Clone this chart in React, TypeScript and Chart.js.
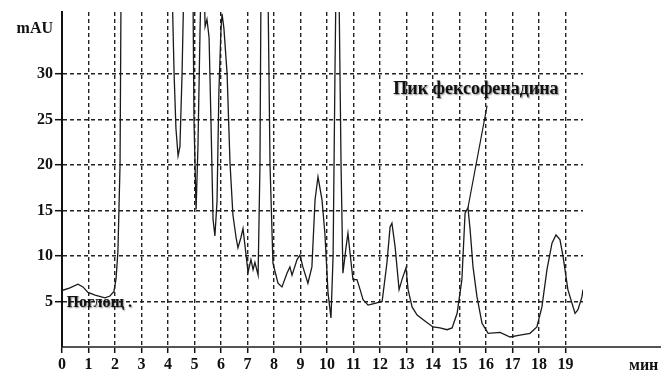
import React, { useEffect, useRef } from "react";
import { Chart, registerables } from "chart.js";

Chart.register(...registerables);

// Retention time (min)
const times = [
  0, 0.3, 0.6, 0.79, 0.98, 1.25, 1.62, 1.81, 1.96, 2.04, 2.11, 2.19, 2.23,
  4.15, 4.23, 4.3, 4.38, 4.45, 4.53, 4.6, 4.9, 4.94, 4.98, 5.06, 5.13, 5.21, 5.25,
  5.36, 5.4, 5.47, 5.55, 5.62, 5.7, 5.77, 5.85, 5.92, 6.0, 6.04, 6.11, 6.23, 6.34,
  6.45, 6.57, 6.64, 6.75, 6.83, 6.91, 7.02, 7.13, 7.21, 7.28, 7.4, 7.47, 7.51,
  7.77, 7.85, 7.96, 8.15, 8.3, 8.49, 8.6, 8.68, 8.87, 8.98, 9.09, 9.28, 9.43,
  9.55, 9.66, 9.81, 9.92, 10.04, 10.15, 10.23, 10.3, 10.34, 10.45, 10.53, 10.6,
  10.72, 10.79, 10.87, 10.98, 11.13, 11.25, 11.36, 11.55, 11.81, 12.08, 12.26,
  12.38, 12.45, 12.57, 12.72, 12.83, 12.98, 13.06, 13.21, 13.4, 13.77, 14.0,
  14.26, 14.53, 14.72, 14.91, 15.09, 15.21, 15.32, 15.4, 15.51, 15.66, 15.85,
  16.08, 16.53, 16.91, 17.28, 17.66, 17.92, 18.11, 18.3, 18.49, 18.64, 18.79,
  18.91, 19.09, 19.36, 19.47, 19.62, 19.66,
];

// Absorbance (mAU)
const absorbance = [
  6.2, 6.5, 6.9, 6.6, 6.0, 5.7, 5.4, 5.6, 6.1, 7.5, 10.5, 20, 40,
  40, 30, 24, 21, 22, 30, 40, 40, 40, 25, 15.1, 22, 35, 40,
  40, 35.2, 36, 34, 25, 14, 12.2, 16, 28, 35, 36.6, 35, 30, 20.2,
  14.5, 12, 10.9, 12, 13, 11, 8.2, 9.6, 8.5, 9.3, 7.9, 20, 40,
  40, 20, 9.2, 7.0, 6.6, 8.1, 8.8, 7.9, 9.6, 10.1, 8.8, 7.0, 8.8,
  16.2, 18.7, 16.2, 12.5, 5.9, 3.2, 10, 30, 40, 40, 20, 8.1,
  11, 12.5, 10.3, 7.4, 7.4, 6.3, 5.2, 4.6, 4.8, 5.0, 9.2,
  13.2, 13.6, 11, 6.3, 7.4, 8.7, 6.3, 4.4, 3.5, 2.7, 2.2,
  2.1, 1.9, 2.1, 3.7, 7.4, 14.7, 15.3, 12.9, 8.8, 5.5, 2.6,
  1.5, 1.6, 1.1, 1.3, 1.5, 2.2, 4.4, 8.5, 11.4, 12.3, 11.8,
  9.9, 6.3, 3.7, 4.1, 5.5, 6.3,
];

// Leader line from the fexofenadine peak to its label
const leaderTimes = [15.32, 16.04];
const leaderValues = [15.3, 26.5];

const xTicks = [0, 1, 2, 3, 4, 5, 6, 7, 8, 9, 10, 11, 12, 13, 14, 15, 16, 17, 18, 19];
const yTicks = [5, 10, 15, 20, 25, 30];
const yUnitValue = 35;
const yUnitLabel = "mAU";
const xUnitLabel = "мин";
const peakLabel = "Пик фексофенадина";
const peakLabelPos = [15.62, 28.35];
const absorbLabel = "Поглощ .";
const absorbLabelPos = [0.17, 4.85];

const FONT = "'Liberation Serif', 'Times New Roman', serif";

export default function App() {
  const ref = useRef<HTMLCanvasElement | null>(null);

  useEffect(() => {
    const canvas = ref.current;
    if (!canvas) return;
    const extras = {
      id: "extras",
      afterDraw(chart: any) {
        const ctx = chart.ctx;
        const area = chart.chartArea;
        const xs = chart.scales.x;
        const ys = chart.scales.y;
        ctx.save();
        // extended x axis line
        ctx.strokeStyle = "#555";
        ctx.lineWidth = 2;
        ctx.beginPath();
        ctx.moveTo(area.right, area.bottom);
        ctx.lineTo(chart.width, area.bottom);
        ctx.stroke();
        // unit label
        ctx.fillStyle = "#111";
        ctx.font = `bold 16px ${FONT}`;
        ctx.textAlign = "left";
        ctx.textBaseline = "middle";
        ctx.fillText(xUnitLabel, 629, 366);
        // annotations
        ctx.shadowColor = "rgba(0,0,0,0.45)";
        ctx.shadowBlur = 1.5;
        ctx.shadowOffsetX = 1;
        ctx.shadowOffsetY = 1;
        ctx.font = `bold 18px ${FONT}`;
        ctx.textAlign = "center";
        ctx.fillText(peakLabel, xs.getPixelForValue(peakLabelPos[0]), ys.getPixelForValue(peakLabelPos[1]));
        ctx.textAlign = "left";
        ctx.font = `bold 16px ${FONT}`;
        ctx.fillText(absorbLabel, xs.getPixelForValue(absorbLabelPos[0]), ys.getPixelForValue(absorbLabelPos[1]));
        ctx.restore();
      },
    };

    const chart = new Chart(canvas, {
      type: "line",
      data: {
        datasets: [
          {
            data: times.map((t, i) => ({ x: t, y: absorbance[i] })),
            borderColor: "#1a1a1a",
            borderWidth: 1.3,
            pointRadius: 0,
            tension: 0,
          },
          {
            data: leaderTimes.map((t, i) => ({ x: t, y: leaderValues[i] })),
            borderColor: "#1a1a1a",
            borderWidth: 1.2,
            pointRadius: 0,
            tension: 0,
          },
        ],
      },
      options: {
        animation: false,
        responsive: false,
        layout: { padding: { top: 12, right: 78, left: 0, bottom: 0 } },
        plugins: { legend: { display: false }, tooltip: { enabled: false } },
        scales: {
          x: {
            type: "linear",
            min: 0,
            max: 19.66,
            afterBuildTicks: (s: any) => {
              s.ticks = xTicks.map((v) => ({ value: v }));
            },
            afterFit: (s: any) => {
              s.height = 24;
            },
            ticks: {
              autoSkip: false,
              maxRotation: 0,
              padding: 2,
              color: "#111",
              font: { family: FONT, size: 16, weight: "bold" },
              callback: (v: any) => String(v),
            },
            grid: {
              color: "#222",
              lineWidth: 1.4,
              tickLength: 6,
              tickColor: "#111",
              tickWidth: 1.5,
              tickBorderDash: [],
            },
            border: { display: true, color: "#555", width: 2, dash: [4, 3] },
          },
          y: {
            type: "linear",
            min: 0,
            max: 36.8,
            afterBuildTicks: (s: any) => {
              s.ticks = [...yTicks, yUnitValue].map((v) => ({ value: v }));
            },
            afterFit: (s: any) => {
              s.width = 62;
            },
            ticks: {
              padding: 2,
              color: "#111",
              font: { family: FONT, size: 16, weight: "bold" },
              callback: (v: any) => (v === yUnitValue ? yUnitLabel : String(v)),
            },
            grid: {
              color: (c: any) => (c.tick && c.tick.value === yUnitValue ? "rgba(0,0,0,0)" : "#222"),
              tickColor: (c: any) => (c.tick && c.tick.value === yUnitValue ? "rgba(0,0,0,0)" : "#111"),
              lineWidth: 1.4,
              tickLength: 7,
              tickWidth: 1.5,
              tickBorderDash: [],
            },
            border: { display: true, color: "#111", width: 2, dash: [4, 3] },
          },
        },
      },
      plugins: [extras],
    } as any);

    return () => chart.destroy();
  }, []);

  return (
    <div style={{ position: "fixed", left: 0, top: 0, width: 661, height: 371, background: "#fff" }}>
      <canvas ref={ref} width={661} height={371} />
    </div>
  );
}
